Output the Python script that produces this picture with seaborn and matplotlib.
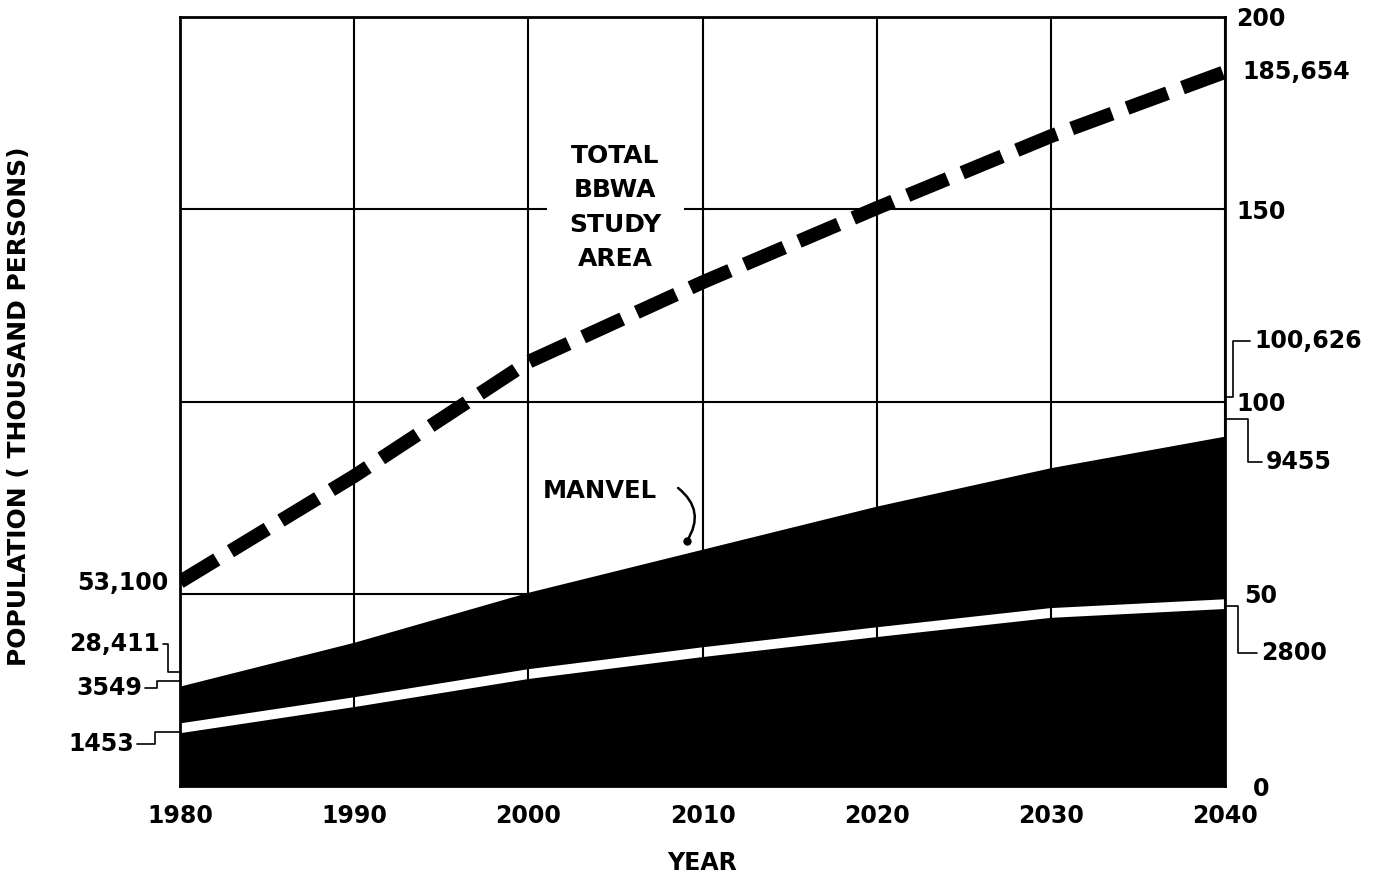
import matplotlib
matplotlib.use('Agg')
import matplotlib.pyplot as plt
import matplotlib.transforms as mtransforms
import seaborn as sns
import pandas as pd

# values (thousand persons)
years = [1980, 1990, 2000, 2010, 2020, 2030, 2040]
total_bbwa = [53.1, 80.6, 110.3, 131.0, 150.3, 169.0, 185.7]
manvel_top = [26.0, 37.4, 50.4, 61.6, 72.8, 82.8, 91.0]
lower_line = [15.0, 21.8, 29.1, 34.8, 40.0, 45.0, 47.3]

df = pd.DataFrame({'year': years, 'total': total_bbwa,
                   'manvel': manvel_top, 'lower': lower_line})

sns.set_style('white')
plt.rcParams['font.family'] = ['DejaVu Sans']
plt.rcParams['font.weight'] = 'bold'
plt.rcParams['axes.labelweight'] = 'bold'
plt.rcParams['text.color'] = 'black'
plt.rcParams['xtick.color'] = 'black'
plt.rcParams['ytick.color'] = 'black'
plt.rcParams['axes.labelcolor'] = 'black'

fig = plt.figure(figsize=(13.84, 8.81), dpi=100)
ax = fig.add_axes([180 / 1384, 95 / 881, 1045 / 1384, 769 / 881])

# black area and white separating line
ax.fill_between(df['year'], 0, df['manvel'], color='black', lw=0, zorder=1)
sns.lineplot(data=df, x='year', y='lower', color='white', lw=7,
             ax=ax, zorder=1.5)

# dashed total
sns.lineplot(data=df, x='year', y='total', color='black', lw=10,
             ax=ax, zorder=5)
ax.lines[-1].set_dashes((3.1, 1.15))
ax.lines[-1].set_dash_capstyle('butt')

ax.set_xlim(1980, 2040)
ax.set_ylim(0, 200)
ax.set_xticks(years)
ax.set_yticks([0, 50, 100, 150, 200])
ax.grid(True, color='black', lw=1.5, zorder=2)
ax.set_axisbelow(False)
for sp in ax.spines.values():
    sp.set_color('black')
    sp.set_linewidth(2)
    sp.set_zorder(6)

ax.yaxis.tick_right()
ax.tick_params(axis='both', length=0, labelsize=17)
ax.tick_params(axis='x', pad=13)
ax.tick_params(axis='y', pad=26)
for lab in ax.get_yticklabels():
    lab.set_ha('center')

ax.set_xlabel('YEAR', fontsize=17)
ax.xaxis.set_label_coords(0.5, -0.085)
ax.set_ylabel('POPULATION ( THOUSAND PERSONS)', fontsize=18)
ax.yaxis.set_label_position('left')
ax.yaxis.set_label_coords(-0.143, 0.494)

ax.text(2005, 150.5, 'TOTAL\nBBWA\nSTUDY\nAREA', ha='center', va='center',
        fontsize=18, linespacing=1.55, zorder=4,
        bbox=dict(boxstyle='square,pad=0.9', fc='white', ec='none'))

ax.text(2000.8, 76.7, 'MANVEL', ha='left', va='center', fontsize=17.5,
        zorder=4)
ax.annotate('', xy=(2009.1, 63.7), xytext=(2008.6, 77.5),
            arrowprops=dict(arrowstyle='-', lw=1.8, color='black',
                            shrinkA=0, shrinkB=0,
                            connectionstyle='arc3,rad=-0.45'), zorder=4)
ax.plot([2009.1], [63.7], 'o', color='black', ms=5, zorder=4)

# callouts: label, value at axis, label y, elbow x, label x (axes fraction)
trans = mtransforms.blended_transform_factory(ax.transAxes, ax.transData)
callouts = [
    ('28,411', 29.6, 36.9, -0.0115, -0.0163),
    ('3549', 27.3, 25.6, -0.022, -0.0335),
    ('1453', 14.0, 10.9, -0.0239, -0.041),
    ('100,626', 101.2, 115.7, 1.0077, 1.0239),
    ('9455', 95.4, 84.3, 1.022, 1.0354),
    ('2800', 46.8, 34.6, 1.0124, 1.0306),
]
for lab, anchor, ly, ex, lx in callouts:
    edge = 0 if lx < 0 else 1
    ax.plot([edge, ex, ex, lx], [anchor, anchor, ly, ly], color='black',
            lw=1.2, transform=trans, clip_on=False, zorder=6)
    if lx < 0:
        ax.text(lx - 0.003, ly, lab, ha='right', va='center', fontsize=17,
                transform=trans)
    else:
        ax.text(lx + 0.004, ly, lab, ha='left', va='center', fontsize=17,
                transform=trans)

ax.text(-0.0115, total_bbwa[0] - 0.3, '53,100', ha='right', va='center',
        fontsize=17, transform=trans)
ax.text(1.0163, total_bbwa[-1], '185,654', ha='left', va='center',
        fontsize=17, transform=trans)

fig.savefig('out.png', dpi=100, facecolor='white')
